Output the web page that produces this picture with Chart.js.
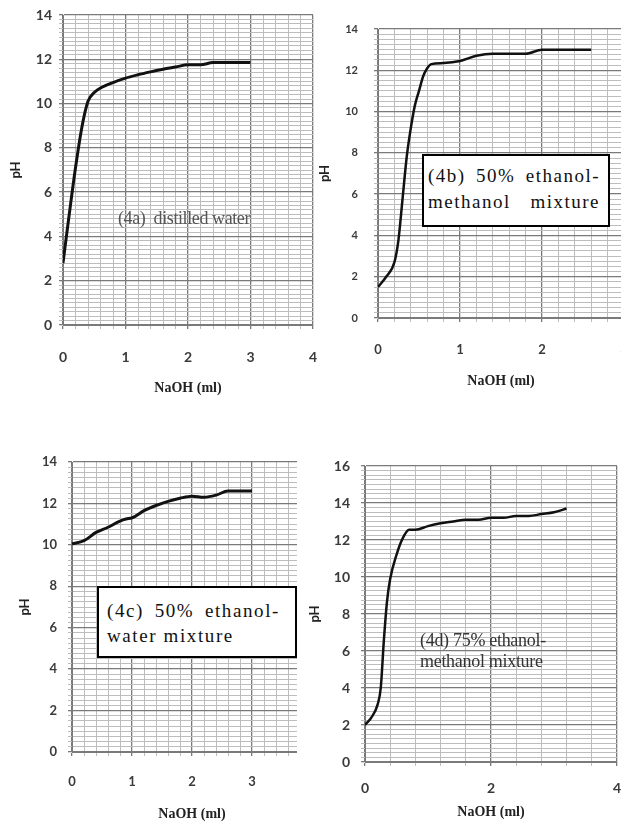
<!DOCTYPE html>
<html><head><meta charset="utf-8">
<script src="https://cdn.jsdelivr.net/npm/chart.js@4.4.1/dist/chart.umd.min.js"></script>
<style>
html,body{margin:0;padding:0;background:#fff;width:621px;height:823px;overflow:hidden;position:relative}
.panel{position:absolute;overflow:hidden}
.panel canvas{position:absolute;left:0;top:0}
.serif{position:absolute;font-family:"Liberation Serif","Times New Roman",serif;white-space:nowrap}
.box{position:absolute;box-sizing:border-box;border:2px solid #000;background:#fff;font-family:"Liberation Serif","Times New Roman",serif;color:#111;white-space:nowrap}
.j{text-align:justify;text-align-last:justify}
</style></head><body>

<div class="panel" style="left:0;top:0;width:320px;height:400px"><canvas id="ca" width="320" height="400" style="width:320px;height:400px"></canvas></div>
<div class="panel" style="left:310px;top:0;width:311px;height:400px"><canvas id="cb" width="320" height="400" style="width:320px;height:400px"></canvas></div>
<div class="panel" style="left:0;top:420px;width:297px;height:403px"><canvas id="cc" width="320" height="403" style="width:320px;height:403px"></canvas>
  <div class="box" style="left:97px;top:166px;width:200px;height:72px;padding:9.5px 15px 0 8px;font-size:19px;line-height:25px;letter-spacing:1.6px">
    <div class="j">(4c) 50% ethanol-</div>
    <div>water mixture</div>
  </div>
</div>
<div class="panel" style="left:305px;top:420px;width:316px;height:403px"><canvas id="cd" width="320" height="403" style="width:320px;height:403px"></canvas></div>

<div class="serif" style="left:118px;top:207px;font-size:18px;line-height:22px;color:#555;letter-spacing:-0.4px">(4a)&nbsp; distilled water</div>
<div class="box" style="left:422px;top:154px;width:188px;height:73px;padding:7px 8px 0 4px;font-size:19px;line-height:26px;letter-spacing:1.5px">
  <div class="j">(4b) 50% ethanol-</div>
  <div class="j">methanol mixture</div>
</div>
<div class="serif" style="left:420px;top:630px;font-size:18px;line-height:21px;color:#333;letter-spacing:-0.3px;width:140px">
  <div>(4d) 75% ethanol-</div>
  <div>methanol mixture</div>
</div>

<script>
// ---- data ----
const naohA = [0, 0.1, 0.2, 0.3, 0.4, 0.5, 0.6, 0.8, 1.0, 1.2, 1.4, 1.6, 1.8, 2.0, 2.2, 2.4, 2.6, 2.8, 3.0];
const phA   = [2.8, 5.0, 7.1, 8.9, 10.1, 10.5, 10.7, 10.95, 11.15, 11.3, 11.43, 11.55, 11.65, 11.75, 11.75, 11.85, 11.85, 11.85, 11.85];

const naohB = [0, 0.1, 0.2, 0.25, 0.3, 0.35, 0.4, 0.45, 0.5, 0.55, 0.6, 0.65, 0.8, 1.0, 1.2, 1.4, 1.6, 1.8, 2.0, 2.2, 2.4, 2.6];
const phB   = [1.5, 2.0, 2.7, 3.8, 5.8, 7.8, 9.2, 10.3, 11.0, 11.7, 12.1, 12.3, 12.35, 12.45, 12.7, 12.8, 12.8, 12.8, 13.0, 13.0, 13.0, 13.0];

const naohC = [0, 0.2, 0.4, 0.6, 0.8, 0.9, 1.0, 1.2, 1.4, 1.6, 1.8, 2.0, 2.2, 2.4, 2.6, 2.8, 3.0];
const phC   = [10.05, 10.2, 10.6, 10.85, 11.15, 11.25, 11.3, 11.65, 11.9, 12.1, 12.25, 12.35, 12.3, 12.4, 12.6, 12.6, 12.6];

const naohD = [0, 0.1, 0.2, 0.25, 0.3, 0.35, 0.4, 0.5, 0.6, 0.7, 0.8, 1.0, 1.2, 1.4, 1.6, 1.8, 2.0, 2.2, 2.4, 2.6, 2.8, 3.0, 3.2];
const phD   = [2.0, 2.4, 3.1, 4.0, 6.6, 8.7, 9.9, 11.2, 12.1, 12.55, 12.55, 12.75, 12.9, 13.0, 13.1, 13.1, 13.2, 13.2, 13.3, 13.3, 13.4, 13.5, 13.7];

const xTitle = 'NaOH (ml)';
const yTitle = 'pH';

// ---- chart builder ----
const near = (v, m) => Math.abs(v / m - Math.round(v / m)) < 1e-6;
const SANS = 'Lato, "Liberation Sans", sans-serif';
const SERIF = '"Liberation Serif", "Times New Roman", serif';

function build(id, xs, ys, s) {
  const w = s.w, h = s.h, a = s.area;
  const gridCol = (m) => (c) => (c.tick && near(c.tick.value, m)) ? '#7a7a7a' : '#bdbdbd';
  const gridW = (m) => (c) => (c.tick && near(c.tick.value, m)) ? 1.3 : 1;
  new Chart(document.getElementById(id), {
    type: 'line',
    data: { datasets: [{
      data: xs.map((x, i) => ({ x: x, y: ys[i] })),
      borderColor: '#111', borderWidth: s.lw, pointRadius: 0,
      cubicInterpolationMode: 'monotone', fill: false
    }]},
    options: {
      responsive: false, animation: false,
      layout: { padding: { left: 0, top: a.top, right: w - a.right, bottom: 0 } },
      plugins: { legend: { display: false }, tooltip: { enabled: false } },
      scales: {
        x: {
          type: 'linear', min: 0, max: s.xMax,
          afterFit: (sc) => { sc.height = h - a.bottom; sc.paddingLeft = 0; sc.paddingRight = 0; },
          ticks: { stepSize: s.xStep, autoSkip: false, maxRotation: 0, padding: s.xtPad,
                   color: '#3a3a3a', font: { family: SANS, size: s.xtSize, weight: 'bold' },
                   callback: (v) => near(v, s.xLab) ? String(Math.round(v)) : '' },
          grid: { color: gridCol(s.xMaj), lineWidth: gridW(s.xMaj), tickLength: 4, drawTicks: true },
          border: { display: true, color: '#7a7a7a', width: 1 },
          title: { display: true, text: xTitle, color: '#222',
                   font: { family: SERIF, size: 14, weight: 'bold' },
                   padding: { top: 0, bottom: s.xTitlePad } }
        },
        y: {
          type: 'linear', min: 0, max: s.yMax,
          afterFit: (sc) => { sc.width = a.left; sc.paddingTop = 0; sc.paddingBottom = 0; },
          ticks: { stepSize: s.yStep, autoSkip: false, padding: s.ytPad,
                   color: '#3a3a3a', font: { family: SANS, size: s.ytSize, weight: 'bold' },
                   callback: (v) => near(v, 2) ? String(Math.round(v)) : '' },
          grid: { color: gridCol(2), lineWidth: gridW(2), tickLength: 4, drawTicks: true },
          border: { display: true, color: '#7a7a7a', width: 1 },
          title: { display: true, text: yTitle, color: '#222',
                   font: { family: SANS, size: 13, weight: 'bold' },
                   padding: { top: s.yTitlePad, bottom: 0 } }
        }
      }
    }
  });
}

build('ca', naohA, phA, { w: 320, h: 400, area: { left: 63, top: 15, right: 313, bottom: 325 },
  xMax: 4, xStep: 0.2, xMaj: 1, xLab: 1, yMax: 14, yStep: 0.2, lw: 3,
  xtSize: 14, xtPad: 19.6, ytSize: 14, ytPad: 7, xTitlePad: 3.6, yTitlePad: 8.2 });

build('cb', naohB, phB, { w: 320, h: 400, area: { left: 68, top: 29, right: 314, bottom: 318 },
  xMax: 3, xStep: 0.2, xMaj: 1, xLab: 1, yMax: 14, yStep: 0.25, lw: 2.5,
  xtSize: 13, xtPad: 20.2, ytSize: 11, ytPad: 16, xTitlePad: 10.6, yTitlePad: 7.2 });

build('cc', naohC, phC, { w: 320, h: 403, area: { left: 72, top: 42, right: 312, bottom: 332 },
  xMax: 4, xStep: 0.2, xMaj: 1, xLab: 1, yMax: 14, yStep: 0.25, lw: 3,
  xtSize: 13, xtPad: 18.2, ytSize: 13, ytPad: 11, xTitlePad: 0, yTitlePad: 17.2 });

build('cd', naohD, phD, { w: 320, h: 403, area: { left: 60, top: 46, right: 312, bottom: 342 },
  xMax: 4, xStep: 0.4, xMaj: 2, xLab: 2, yMax: 16, yStep: 0.25, lw: 2.5,
  xtSize: 14, xtPad: 13.6, ytSize: 14, ytPad: 11, xTitlePad: 2.6, yTitlePad: 2.2 });
</script>
</body></html>
